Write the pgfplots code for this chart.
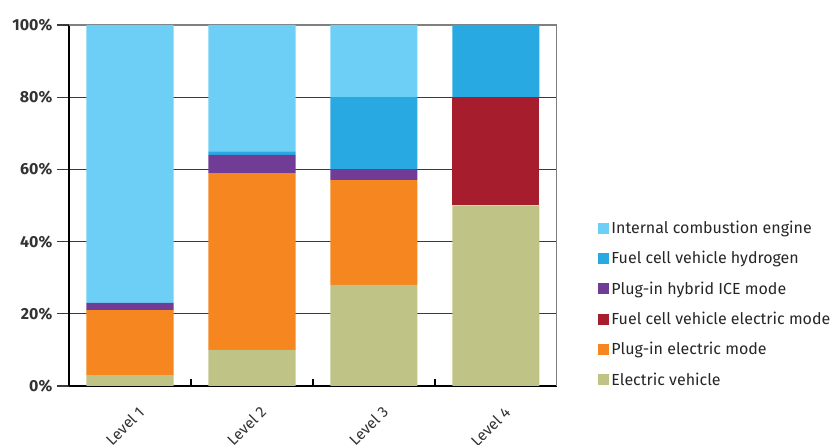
\documentclass[border=0pt]{standalone}
\usepackage{pgfplots}
\pgfplotsset{compat=1.18}
\usepackage{fontspec}
\setmainfont{Fira Sans}
\definecolor{ice}{HTML}{6DCFF6}
\definecolor{fch}{HTML}{29A9E1}
\definecolor{phice}{HTML}{703C95}
\definecolor{fce}{HTML}{A61E2E}
\definecolor{pie}{HTML}{F58620}
\definecolor{ev}{HTML}{BFC385}
\definecolor{gridc}{HTML}{3A3A3A}
\begin{document}
\begin{tikzpicture}
\useasboundingbox (-51.75pt,-44.25pt) rectangle (573pt,289.5pt);
\begin{axis}[
  at={(0,0)}, anchor=south west,
  scale only axis,
  width=366pt, height=270.75pt,
  ybar stacked, bar width=65.25pt,
  xmin=-0.5, xmax=3.5, ymin=0, ymax=100,
  xtick={0,1,2,3},
  xticklabels={Level 1,Level 2,Level 3,Level 4},
  major x tick style={draw=none},
  minor xtick={0.5,1.5,2.5},
  minor tick length=5pt,
  minor x tick style={black, line width=1pt},
  ytick={0,20,40,60,80,100},
  yticklabel={\pgfmathprintnumber{\tick}\%},
  /pgf/number format/assume math mode=true,
  tick align=inside, major tick length=9pt,
  major y tick style={gridc, line width=1pt, xshift=-9pt},
  ymajorgrids, grid style={gridc, line width=1pt},
  axis x line*=bottom, axis y line*=left,
  axis line style={black, line width=1.2pt},
  tick label style={font=\fontsize{12}{14}\selectfont\bfseries, text=black!80},
  yticklabel style={xshift=-9pt},
  xticklabel style={xshift=11pt, yshift=-15pt, rotate=45, anchor=east, font=\fontsize{11.5}{13}\selectfont},
  reverse legend,
  legend style={draw=none, fill=none, at={(1.075,0.227)}, anchor=west,
    font=\fontsize{12}{14}\selectfont, row sep=7.9pt, text=black!85},
  legend cell align=left,
  legend image code/.code={\fill[#1] (-5pt,-4.1pt) rectangle (3.2pt,4.1pt);},
  every axis plot/.append style={draw=none},
]
\addplot[fill=ev] coordinates {(0,3) (1,10) (2,28) (3,50)};
\addplot[fill=pie] coordinates {(0,18) (1,49) (2,29) (3,0)};
\addplot[fill=fce] coordinates {(0,0) (1,0) (2,0) (3,30)};
\addplot[fill=phice] coordinates {(0,2) (1,5) (2,3) (3,0)};
\addplot[fill=fch] coordinates {(0,0) (1,1) (2,20) (3,20)};
\addplot[fill=ice] coordinates {(0,77) (1,35) (2,20) (3,0)};
\legend{Electric vehicle,Plug-in electric mode,Fuel cell vehicle electric mode,Plug-in hybrid ICE mode,Fuel cell vehicle hydrogen,Internal combustion engine}
\draw[gray, line width=1pt] (rel axis cs:0,1) -- (rel axis cs:1,1) -- (rel axis cs:1,0);
\end{axis}
\end{tikzpicture}
\end{document}
